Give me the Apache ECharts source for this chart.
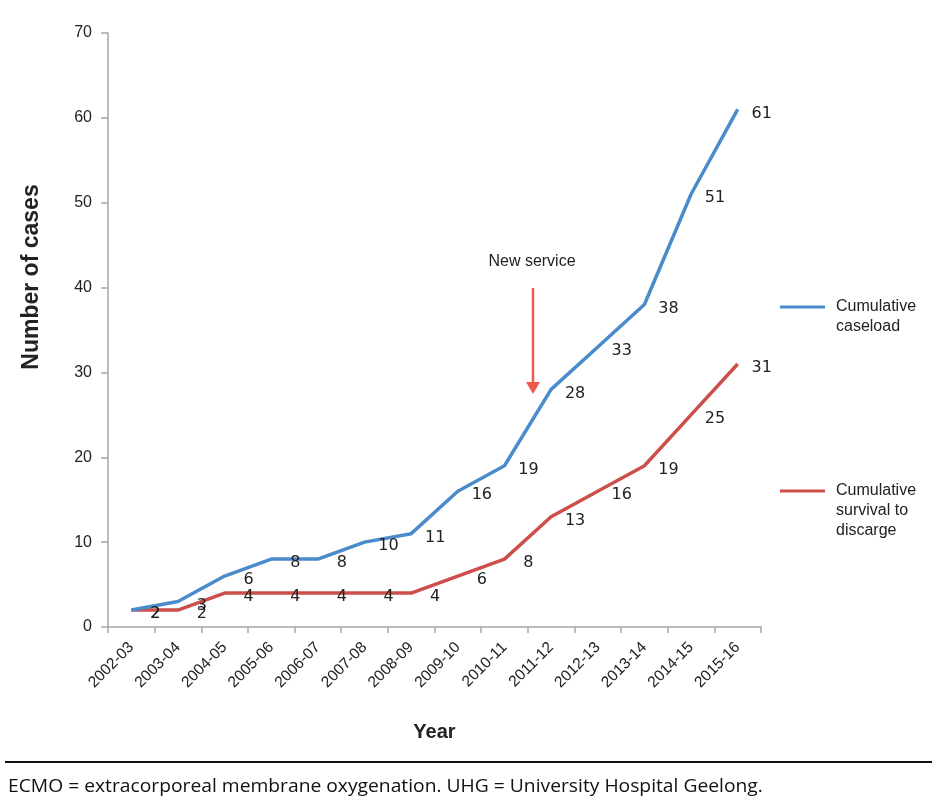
<!DOCTYPE html>
<html>
<head>
<meta charset="utf-8">
<script src="https://cdn.jsdelivr.net/npm/echarts@6/dist/echarts.min.js"></script>
<style>
html,body{margin:0;padding:0;background:#fff;}
#chart{width:939px;height:810px;}
</style>
</head>
<body>
<div id="chart"></div>
<script>
const categories = ['2002-03','2003-04','2004-05','2005-06','2006-07','2007-08','2008-09','2009-10','2010-11','2011-12','2012-13','2013-14','2014-15','2015-16'];
const caseload = [2,3,6,8,8,10,11,16,19,28,33,38,51,61];
const survival = [2,2,4,4,4,4,4,6,8,13,16,19,25,31];
const yTicks = [0,10,20,30,40,50,60,70];
const seriesNames = ['Cumulative caseload','Cumulative survival to discarge'];

const chart = echarts.init(document.getElementById('chart'));

const labelCfg = {
  show: true,
  position: 'inside',
  offset: [24, 4],
  color: '#222',
  fontFamily: 'DejaVu Sans',
  fontSize: 16
};

const legendText = { fontFamily: 'Liberation Sans, Arial', fontSize: 16, color: '#222', lineHeight: 20, padding: [0, 0, 0, 6] };

const option = {
  animation: false,
  backgroundColor: '#fff',
  grid: { left: 108, right: 178, top: 33, bottom: 183, containLabel: false },
  legend: [
    {
      data: [seriesNames[0]],
      orient: 'vertical',
      left: 780, top: 277, padding: 0,
      itemWidth: 45, itemHeight: 3,
      itemGap: 0,
      icon: 'rect',
      formatter: () => '\nCumulative\ncaseload',
      textStyle: legendText
    },
    {
      data: [seriesNames[1]],
      orient: 'vertical',
      left: 780, top: 441, padding: 0,
      itemWidth: 45, itemHeight: 3,
      itemGap: 0,
      icon: 'rect',
      formatter: () => '\n\nCumulative\nsurvival to\ndiscarge',
      textStyle: legendText
    }
  ],
  xAxis: {
    type: 'category',
    data: categories,
    boundaryGap: true,
    axisLine: { lineStyle: { color: '#a6a6a6', width: 1.5 } },
    axisTick: { show: true, alignWithLabel: false, length: 6, lineStyle: { color: '#a6a6a6', width: 1.5 } },
    axisLabel: { rotate: 45, interval: 0, color: '#222', fontFamily: 'Liberation Sans, Arial', fontSize: 15.5, margin: 18 },
    name: 'Year',
    nameLocation: 'middle',
    nameGap: 95,
    nameTextStyle: { fontFamily: 'Liberation Sans, Arial', fontWeight: 'bold', fontSize: 20, color: '#222' }
  },
  yAxis: {
    type: 'value',
    min: 0, max: 70, interval: 10,
    axisLine: { show: true, lineStyle: { color: '#a6a6a6', width: 1.5 } },
    axisTick: { show: true, length: 7, lineStyle: { color: '#a6a6a6', width: 1.5 } },
    splitLine: { show: false },
    axisLabel: { color: '#222', fontFamily: 'Liberation Sans, Arial', fontSize: 16, margin: 16,
      formatter: v => yTicks.includes(v) ? String(v) : '' }
  },
  series: [
    {
      name: seriesNames[0],
      type: 'line',
      data: caseload,
      color: '#4A8BCC',
      lineStyle: { color: '#4A8BCC', width: 3.5 },
      symbol: 'circle', symbolSize: 0.1, showSymbol: true,
      itemStyle: { color: '#4A8BCC' },
      label: labelCfg,
      z: 3
    },
    {
      name: seriesNames[1],
      type: 'line',
      data: survival,
      color: '#CC4F4A',
      lineStyle: { color: '#CC4F4A', width: 3.5 },
      symbol: 'circle', symbolSize: 0.1, showSymbol: true,
      itemStyle: { color: '#CC4F4A' },
      label: labelCfg,
      z: 2
    }
  ],
  graphic: [
    { type: 'text', x: 32, y: 277, rotation: Math.PI / 2,
      style: { text: 'Number of cases', fontFamily: 'Liberation Sans, Arial', fontWeight: 'bold', fontSize: 23, fill: '#222', align: 'center', verticalAlign: 'middle' } },
    { type: 'text', x: 532, y: 262,
      style: { text: 'New service', fontFamily: 'Liberation Sans, Arial', fontSize: 16, fill: '#222', align: 'center', verticalAlign: 'middle' } },
    { type: 'line', shape: { x1: 533, y1: 288, x2: 533, y2: 383 }, style: { stroke: '#F05A4A', lineWidth: 2.5 } },
    { type: 'polygon', shape: { points: [[526, 382], [540, 382], [533, 394]] }, style: { fill: '#F05A4A' } },
    { type: 'line', shape: { x1: 5, y1: 762, x2: 932, y2: 762 }, style: { stroke: '#111', lineWidth: 2 } },
    { type: 'text', x: 8, y: 787, scaleX: 1.07,
      style: { text: 'ECMO = extracorporeal membrane oxygenation. UHG = University Hospital Geelong.', fontFamily: 'Open Sans', fontSize: 18, fill: '#111', verticalAlign: 'middle' } }
  ]
};
chart.setOption(option);
</script>
</body>
</html>
